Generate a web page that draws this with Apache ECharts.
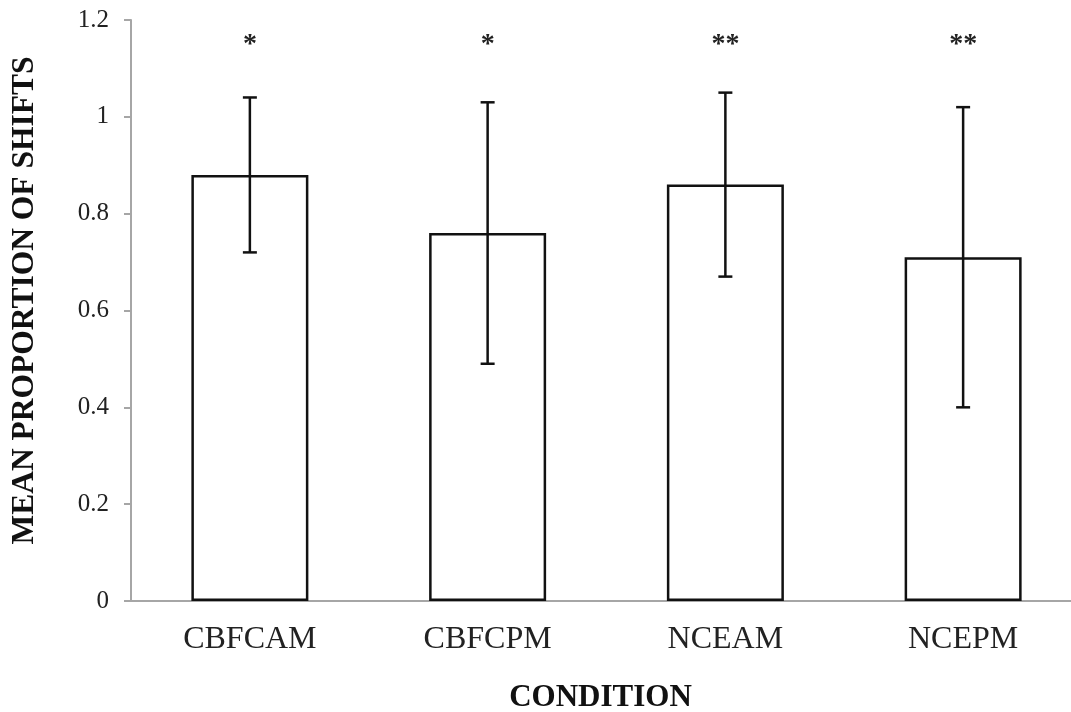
<!DOCTYPE html>
<html>
<head>
<meta charset="utf-8">
<script src="https://cdn.jsdelivr.net/npm/echarts@6/dist/echarts.min.js"></script>
<style>html,body{margin:0;padding:0;background:#fff;}#c{width:1071px;height:712px;}</style>
</head>
<body>
<div id="c"></div>
<script>
var categories = ['CBFCAM', 'CBFCPM', 'NCEAM', 'NCEPM'];
var means = [0.88, 0.76, 0.86, 0.71];
var errLow = [0.72, 0.49, 0.67, 0.40];
var errHigh = [1.04, 1.03, 1.05, 1.02];
var significance = ['*', '*', '**', '**'];
var yTicks = [0, 0.2, 0.4, 0.6, 0.8, 1, 1.2];

var serif = '"Liberation Serif", "Times New Roman", serif';
var chart = echarts.init(document.getElementById('c'), null, {renderer: 'canvas'});

var errData = categories.map(function (c, i) { return [i, errLow[i], errHigh[i], significance[i]]; });

chart.setOption({
  animation: false,
  backgroundColor: '#ffffff',
  grid: {left: 131, right: -11, top: 20, bottom: 111, containLabel: false, outerBoundsMode: 'none'},
  xAxis: {
    type: 'category',
    data: categories,
    name: 'CONDITION',
    nameLocation: 'middle',
    nameGap: 81,
    nameTextStyle: {fontFamily: serif, fontWeight: 'bold', fontSize: 31, color: '#111', padding: [0, 12, 0, 0]},
    axisLine: {lineStyle: {color: '#a6a6a6', width: 2}},
    axisTick: {show: false},
    axisLabel: {fontFamily: serif, fontSize: 32, color: '#222', margin: 23}
  },
  yAxis: {
    type: 'value',
    min: 0, max: 1.2, interval: 0.2,
    name: 'MEAN PROPORTION OF SHIFTS',
    nameLocation: 'middle',
    nameGap: 90,
    nameRotate: 90,
    nameTextStyle: {fontFamily: serif, fontWeight: 'bold', fontSize: 31.5, color: '#111', padding: [0, 0, 0, 20]},
    axisLine: {show: true, lineStyle: {color: '#a6a6a6', width: 2}},
    axisTick: {show: true, length: 7, lineStyle: {color: '#a6a6a6', width: 2}},
    splitLine: {show: false},
    axisLabel: {
      fontFamily: serif, fontSize: 25, color: '#222', margin: 22,
      formatter: function (v) {
        for (var k = 0; k < yTicks.length; k++) { if (Math.abs(yTicks[k] - v) < 1e-9) return String(yTicks[k]); }
        return '';
      }
    }
  },
  series: [
    {
      type: 'bar',
      data: means,
      barWidth: 117,
      itemStyle: {color: '#ffffff', borderColor: '#111', borderWidth: 2.5},
      z: 2
    },
    {
      type: 'custom',
      data: errData,
      z: 5,
      renderItem: function (params, api) {
        var x = api.value(0);
        var lo = api.coord([x, api.value(1)]);
        var hi = api.coord([x, api.value(2)]);
        var top = api.coord([x, 1.2]);
        var cap = 7;
        var st = {stroke: '#111', lineWidth: 2.5};
        return {
          type: 'group',
          children: [
            {type: 'line', shape: {x1: lo[0], y1: lo[1], x2: hi[0], y2: hi[1]}, style: st},
            {type: 'line', shape: {x1: lo[0] - cap, y1: lo[1], x2: lo[0] + cap, y2: lo[1]}, style: st},
            {type: 'line', shape: {x1: hi[0] - cap, y1: hi[1], x2: hi[0] + cap, y2: hi[1]}, style: st},
            {type: 'text', style: {x: hi[0], y: top[1] + 25, text: api.value(3), textAlign: 'center', textVerticalAlign: 'middle', fontFamily: serif, fontWeight: 'bold', fontSize: 28, fill: '#222'}}
          ]
        };
      }
    }
  ]
});
</script>
</body>
</html>
